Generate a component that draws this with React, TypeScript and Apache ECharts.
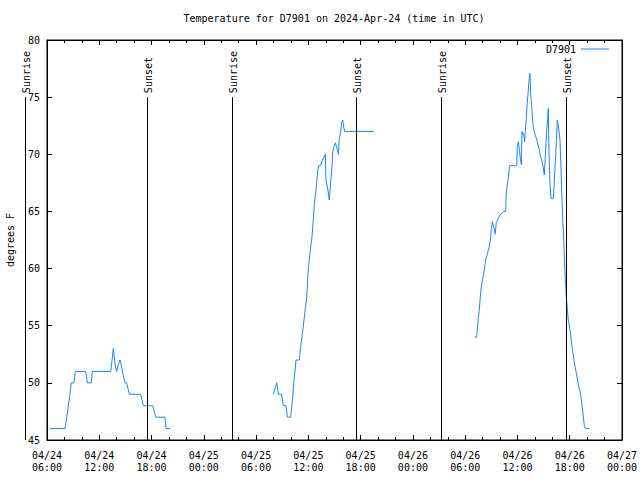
import React, { useEffect, useRef } from "react";
import * as echarts from "echarts";

const TITLE = "Temperature for D7901 on 2024-Apr-24 (time in UTC)";
const SERIES_NAME = "D7901";
const Y_LABEL = "degrees F";
const LINE_COLOR = "#1a84ff";
const FONT = "'DejaVu Sans Mono', 'Liberation Mono', monospace";

// Segment 1 (04/24)
const seg1Times = [
  "04/24 06:20", "04/24 08:04", "04/24 08:16", "04/24 08:27", "04/24 08:38", "04/24 08:47",
  "04/24 09:06", "04/24 09:15", "04/24 10:26", "04/24 10:38", "04/24 11:05", "04/24 11:12",
  "04/24 13:19", "04/24 13:37", "04/24 13:48", "04/24 14:00", "04/24 14:11", "04/24 14:23",
  "04/24 14:34", "04/24 14:45", "04/24 14:57", "04/24 15:08", "04/24 15:20", "04/24 15:27",
  "04/24 16:45", "04/24 17:03", "04/24 18:08", "04/24 18:29", "04/24 19:33", "04/24 19:40",
  "04/24 20:07",
];
const seg1Temps = [
  46, 46, 47, 48, 49, 50,
  50, 51, 51, 50, 50, 51,
  51, 53, 51.7, 51, 51.6, 52,
  51.4, 50.7, 50, 50, 49.4, 49,
  49, 48, 48, 47, 47, 46,
  46,
];

// Segment 2 (04/25)
const seg2Times = [
  "04/25 07:59", "04/25 08:22", "04/25 08:33", "04/25 08:56", "04/25 09:07", "04/25 09:26",
  "04/25 09:35", "04/25 09:58", "04/25 10:10", "04/25 10:21", "04/25 10:35", "04/25 10:58",
  "04/25 11:07", "04/25 11:18", "04/25 11:30", "04/25 11:39", "04/25 11:49", "04/25 11:55",
  "04/25 12:02", "04/25 12:11", "04/25 12:18", "04/25 12:25", "04/25 12:34", "04/25 12:41",
  "04/25 12:50", "04/25 12:57", "04/25 13:04", "04/25 13:11", "04/25 13:25", "04/25 13:32",
  "04/25 13:43", "04/25 13:57", "04/25 14:01", "04/25 14:13", "04/25 14:20", "04/25 14:24",
  "04/25 14:34", "04/25 14:43", "04/25 14:48", "04/25 14:57", "04/25 15:06", "04/25 15:13",
  "04/25 15:20", "04/25 15:27", "04/25 15:33", "04/25 15:43", "04/25 15:50", "04/25 15:57",
  "04/25 16:03", "04/25 16:10", "04/25 19:32",
];
const seg2Temps = [
  49, 50, 49, 49, 48, 48,
  47, 47, 48.5, 50.2, 52, 52,
  53.2, 54.2, 55.5, 56.5, 57.5, 59,
  60.3, 61.3, 62.1, 62.8, 64.3, 65.6,
  66.6, 67.5, 68.5, 69, 69, 69.35,
  69.6, 70, 67.75, 67, 66.4, 66,
  67.6, 69, 70.2, 70.7, 71, 70.7,
  70.4, 70, 71.3, 72, 72.85, 73,
  72.4, 72, 72,
];

// Segment 3 (04/26)
const seg3Times = [
  "04/26 07:03", "04/26 07:19", "04/26 07:23", "04/26 07:30", "04/26 07:37", "04/26 07:44",
  "04/26 07:51", "04/26 07:58", "04/26 08:05", "04/26 08:12", "04/26 08:19", "04/26 08:26",
  "04/26 08:32", "04/26 08:39", "04/26 08:46", "04/26 08:53", "04/26 09:00", "04/26 09:07",
  "04/26 09:14", "04/26 09:20", "04/26 09:27", "04/26 09:34", "04/26 09:41", "04/26 09:51",
  "04/26 10:00", "04/26 10:12", "04/26 10:23", "04/26 10:39", "04/26 10:43", "04/26 10:53",
  "04/26 11:02", "04/26 11:04", "04/26 11:55", "04/26 11:59", "04/26 12:06", "04/26 12:13",
  "04/26 12:20", "04/26 12:27", "04/26 12:31", "04/26 12:38", "04/26 12:43", "04/26 12:50",
  "04/26 12:54", "04/26 13:01", "04/26 13:06", "04/26 13:13", "04/26 13:20", "04/26 13:26",
  "04/26 13:31", "04/26 13:38", "04/26 13:45", "04/26 13:54", "04/26 14:03", "04/26 14:13",
  "04/26 14:22", "04/26 14:31", "04/26 14:37", "04/26 14:47", "04/26 14:58", "04/26 15:05",
  "04/26 15:12", "04/26 15:21", "04/26 15:28", "04/26 15:32", "04/26 15:37", "04/26 15:44",
  "04/26 15:51", "04/26 16:07", "04/26 16:14", "04/26 16:24", "04/26 16:30", "04/26 16:34",
  "04/26 16:39", "04/26 16:46", "04/26 16:53", "04/26 16:58", "04/26 17:05", "04/26 17:12",
  "04/26 17:19", "04/26 17:23", "04/26 17:30", "04/26 17:36", "04/26 17:43", "04/26 17:50",
  "04/26 17:57", "04/26 18:04", "04/26 18:11", "04/26 18:18", "04/26 18:25", "04/26 18:32",
  "04/26 18:38", "04/26 18:45", "04/26 18:52", "04/26 18:59", "04/26 19:06", "04/26 19:13",
  "04/26 19:20", "04/26 19:27", "04/26 19:34", "04/26 19:40", "04/26 19:47", "04/26 20:15",
];
const seg3Temps = [
  54, 54, 54.6, 55.6, 56.4, 57.5,
  58.4, 59, 59.4, 59.9, 60.6, 61,
  61.2, 61.6, 61.9, 62.5, 63.4, 64.1,
  63.7, 63.5, 63, 64, 64.2, 64.5,
  64.7, 64.8, 65, 65, 66.6, 67.6,
  68.5, 69, 69, 70.7, 71.1, 70.5,
  69.6, 69.1, 72, 71.7, 71.8, 71.1,
  72, 73.1, 74.3, 75.3, 76.5, 77.1,
  75.3, 74.2, 72.85, 72, 71.7, 71.25,
  70.8, 70.4, 69.9, 69.5, 68.8, 68.2,
  69.8, 72.1, 73.1, 74, 70.1, 67.5,
  66.15, 66.15, 67.6, 70.1, 71.6, 73,
  72.7, 72, 71.25, 69.5, 66.7, 64.25,
  62.5, 61, 59, 57.6, 56.5, 55.5,
  55, 54.5, 53.6, 53, 52.4, 51.8,
  51.3, 50.9, 50.4, 49.9, 49.5, 49.1,
  48.6, 47.8, 47, 46.3, 46, 46,
];

// Sunrise / sunset markers
const sunLabels = ["Sunrise", "Sunset", "Sunrise", "Sunset", "Sunrise", "Sunset"];
const sunTimes = ["04/24 03:27", "04/24 17:29", "04/25 03:16", "04/25 17:31", "04/26 03:16", "04/26 17:35"];
const SUN_TOP = 75;
const SUN_BOTTOM = 45;

// Axis range (hours since 04/24 00:00 UTC)
const X_MIN = 6;
const X_MAX = 72;
const X_STEP = 6;
const Y_MIN = 45;
const Y_MAX = 80;
const Y_STEP = 5;

function toHours(s: string): number {
  const [md, hm] = s.split(" ");
  const day = parseInt(md.split("/")[1], 10);
  const [h, m] = hm.split(":").map(Number);
  return (day - 24) * 24 + h + m / 60;
}

function pad(n: number) {
  return n < 10 ? "0" + n : "" + n;
}

function xLabel(v: number) {
  const day = 24 + Math.floor(v / 24);
  const hh = Math.round(v % 24);
  return `04/${day}\n${pad(hh)}:00`;
}

function pairs(times: string[], temps: number[]) {
  return times.map((t, i) => [toHours(t), temps[i]]);
}

export default function App() {
  const ref = useRef<HTMLDivElement>(null);
  useEffect(() => {
    if (!ref.current) return;
    const chart = echarts.init(ref.current, undefined, { renderer: "svg" });
    const seriesCommon = {
      type: "line" as const,
      name: SERIES_NAME,
      symbol: "none",
      showSymbol: false,
      xAxisIndex: 0,
      yAxisIndex: 0,
      lineStyle: { color: LINE_COLOR, width: 1 },
      itemStyle: { color: LINE_COLOR },
      z: 3,
    };
    const axisCommonX = {
      type: "value" as const,
      min: X_MIN,
      max: X_MAX,
      interval: X_STEP,
      axisLine: { show: true, lineStyle: { color: "#000", width: 1 } },
      axisTick: { show: true, inside: true, length: 5, lineStyle: { color: "#000" } },
      minorTick: { show: true, splitNumber: 3, length: 3, lineStyle: { color: "#000" } },
      splitLine: { show: false },
      minorSplitLine: { show: false },
    };
    const axisCommonY = {
      type: "value" as const,
      min: Y_MIN,
      max: Y_MAX,
      interval: Y_STEP,
      axisLine: { show: true, lineStyle: { color: "#000", width: 1 } },
      axisTick: { show: true, inside: true, length: 5, lineStyle: { color: "#000" } },
      splitLine: { show: false },
    };
    chart.setOption({
      animation: false,
      backgroundColor: "#fff",
      title: {
        text: TITLE,
        left: 334,
        top: 13,
        padding: 0,
        textAlign: "center",
        textStyle: { fontFamily: FONT, fontSize: 10, fontWeight: "normal", color: "#000" },
      },
      legend: {
        data: [SERIES_NAME],
        right: 31,
        top: 44,
        padding: 0,
        align: "right",
        icon: "rect",
        itemWidth: 28,
        itemHeight: 1,
        textStyle: { fontFamily: FONT, fontSize: 10, color: "#000" },
        selectedMode: false,
      },
      grid: {
        left: 47,
        right: 18,
        top: 40,
        bottom: 40,
        containLabel: false,
        outerBoundsMode: "none",
        show: true,
        borderColor: "#000",
        borderWidth: 1,
        backgroundColor: "transparent",
      },
      xAxis: [
        {
          ...axisCommonX,
          position: "bottom",
          axisLabel: {
            show: true,
            formatter: (v: number) => xLabel(v),
            fontFamily: FONT,
            fontSize: 10,
            color: "#000",
            lineHeight: 12,
            margin: 9,
          },
        },
        {
          ...axisCommonX,
          position: "top",
          axisLabel: { show: false },
        },
      ],
      yAxis: [
        {
          ...axisCommonY,
          position: "left",
          name: Y_LABEL,
          nameLocation: "middle",
          nameRotate: 90,
          nameGap: 32,
          nameTextStyle: { fontFamily: FONT, fontSize: 10, color: "#000" },
          axisLabel: { show: true, fontFamily: FONT, fontSize: 10, color: "#000", margin: 7 },
        },
        {
          ...axisCommonY,
          position: "right",
          axisLabel: { show: false },
        },
      ],
      series: [
        { ...seriesCommon, data: pairs(seg1Times, seg1Temps) },
        { ...seriesCommon, data: pairs(seg2Times, seg2Temps) },
        { ...seriesCommon, data: pairs(seg3Times, seg3Temps) },
      ],
    });

    const elements: any[] = [];
    sunTimes.forEach((t, i) => {
      const xv = toHours(t);
      const top = chart.convertToPixel({ xAxisIndex: 0, yAxisIndex: 0 } as any, [xv, SUN_TOP]) as number[];
      const bot = chart.convertToPixel({ xAxisIndex: 0, yAxisIndex: 0 } as any, [xv, SUN_BOTTOM]) as number[];
      const px = Math.round(top[0]) + 0.5;
      elements.push({
        type: "line",
        shape: { x1: px, y1: top[1], x2: px, y2: bot[1] },
        style: { stroke: "#000", lineWidth: 1 },
        z: 5,
      });
      elements.push({
        type: "text",
        x: px + 1,
        y: top[1] - 4,
        rotation: Math.PI / 2,
        style: {
          text: sunLabels[i],
          align: "left",
          verticalAlign: "middle",
          fontFamily: FONT,
          fontSize: 10,
          fill: "#000",
        },
        z: 5,
      });
    });
    chart.setOption({ graphic: { elements } });

    return () => chart.dispose();
  }, []);
  return (
    <div
      ref={ref}
      style={{ position: "absolute", left: 0, top: 0, width: 640, height: 480, background: "#fff" }}
    />
  );
}
